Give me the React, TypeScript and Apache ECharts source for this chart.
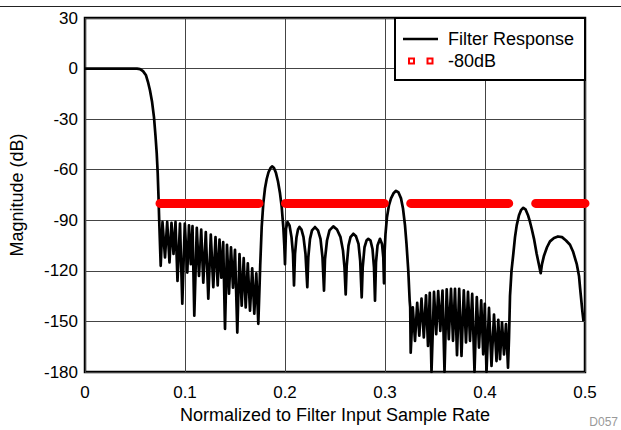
import React, { useEffect, useRef } from "react";
import * as echarts from "echarts";

// Tick setup
const xTicks = [0, 0.1, 0.2, 0.3, 0.4, 0.5];
const yMin = -180;
const yMax = 30;
const yStep = 30;

// Filter response: [normalized frequency, dB]
const passband: [number, number][] = [
  [0, 0], [0.052, 0], [0.055, -0.3], [0.058, -1.5], [0.061, -4], [0.063, -8],
  [0.065, -13], [0.067, -19.5], [0.069, -29], [0.0705, -40], [0.0717, -50],
  [0.0727, -62], [0.0735, -76], [0.0742, -90],
];

const stopband1: [number, number][] = [
  [0.0757, -117], [0.0775, -91], [0.08, -112], [0.0822, -91], [0.0845, -115],
  [0.0865, -91.5], [0.0885, -110], [0.0905, -91], [0.0925, -126], [0.095, -92],
  [0.0973, -139.5], [0.0998, -92], [0.1023, -121], [0.104, -93], [0.1058, -116],
  [0.1075, -93.5], [0.1093, -146.6], [0.1118, -94.5], [0.114, -123], [0.1162, -95.5],
  [0.1183, -127], [0.1208, -97], [0.1233, -136.5], [0.1258, -98.5], [0.1283, -129.7],
  [0.1305, -100], [0.1327, -128.7], [0.1345, -101.5], [0.1363, -124], [0.1382, -103],
  [0.14, -154.4], [0.142, -104.5], [0.144, -133.5], [0.146, -106], [0.148, -130],
  [0.15, -107.5], [0.1523, -156.6], [0.1545, -110], [0.1567, -140.7], [0.1587, -112.5],
  [0.1607, -141.7], [0.1628, -115.5], [0.165, -143.6], [0.1672, -118.5], [0.1693, -145.4],
  [0.1713, -121.5], [0.1733, -151.4],
];

const sidelobeA: [number, number][] = [
  [0.1745, -130], [0.1752, -117], [0.1767, -94], [0.1783, -80], [0.18, -71],
  [0.1817, -65.5], [0.1835, -61.5], [0.1855, -59], [0.1873, -58], [0.189, -59],
  [0.191, -62], [0.193, -67], [0.195, -74], [0.1967, -82], [0.1983, -94],
  [0.1993, -105], [0.2, -116],
];

const stopband2: [number, number][] = [
  [0.201, -95], [0.2025, -91], [0.2045, -93], [0.2065, -100], [0.208, -110], [0.209, -128.7],
  [0.21, -110], [0.2115, -100], [0.213, -95.5], [0.2145, -94], [0.2165, -95.5], [0.2185, -100],
  [0.2205, -110], [0.2223, -129.7],
  [0.2233, -112], [0.225, -101], [0.227, -96], [0.23, -94], [0.233, -96], [0.2355, -101],
  [0.2375, -112], [0.239, -131.7],
  [0.24, -113], [0.242, -102], [0.2445, -96], [0.2483, -93.6], [0.252, -95.5], [0.2555, -100],
  [0.258, -108], [0.2595, -118], [0.2607, -134],
  [0.2617, -117], [0.2635, -105], [0.2655, -100], [0.2683, -98], [0.271, -99.5], [0.2735, -104],
  [0.2752, -114], [0.2767, -135.7],
  [0.2777, -118], [0.2795, -106], [0.2815, -102], [0.2833, -101], [0.2855, -102], [0.2875, -107],
  [0.289, -118], [0.29, -137.7],
  [0.291, -115], [0.2925, -105], [0.295, -101], [0.297, -104], [0.2983, -112], [0.299, -127.4],
];

const sidelobeB: [number, number][] = [
  [0.2995, -110], [0.3005, -98], [0.302, -88], [0.304, -81], [0.306, -77], [0.3085, -74],
  [0.311, -72.5], [0.3135, -73.5], [0.316, -77], [0.318, -83], [0.32, -93], [0.3215, -104],
  [0.3233, -120], [0.3247, -138], [0.3252, -141.7],
];

const stopband3: [number, number][] = [
  [0.3257, -168.5], [0.3278, -141.7], [0.33, -161.5], [0.3322, -139], [0.3343, -158.5],
  [0.3365, -136.5], [0.3388, -159.5], [0.341, -134.5], [0.343, -164.5], [0.3448, -133],
  [0.3465, -180], [0.349, -132.5], [0.3512, -157.5], [0.3532, -132], [0.3553, -155.6],
  [0.3575, -131.7], [0.3595, -180], [0.3617, -131], [0.3638, -160.5], [0.366, -130.7],
  [0.368, -161.5], [0.37, -130.7], [0.372, -170], [0.3742, -130.7], [0.3765, -170.5],
  [0.3788, -131.5], [0.381, -162.5], [0.383, -132.5], [0.385, -161.5], [0.3872, -133.7],
  [0.3895, -180], [0.3918, -135.5], [0.394, -165.5], [0.3962, -137.5], [0.3982, -169.5],
  [0.3998, -139.5], [0.4015, -180], [0.404, -142], [0.4065, -176.4], [0.409, -146],
  [0.4115, -173.5], [0.4133, -149], [0.415, -172.4], [0.417, -150.6], [0.419, -169.5],
  [0.421, -151.6], [0.423, -177.4],
];

const sidelobeC: [number, number][] = [
  [0.424, -160], [0.425, -135], [0.4265, -120], [0.4283, -110], [0.43, -100], [0.4317, -93],
  [0.434, -87], [0.436, -84], [0.4383, -82.6], [0.4405, -83.5], [0.443, -87], [0.445, -91],
  [0.4467, -95], [0.449, -101], [0.4517, -110], [0.454, -116.5], [0.4557, -121.4],
  [0.457, -116], [0.459, -111], [0.462, -106], [0.465, -102.5], [0.469, -100.5], [0.473, -99.6],
  [0.477, -100], [0.481, -102], [0.485, -104.5], [0.488, -108.5], [0.4917, -115.8],
  [0.494, -123], [0.495, -129.7], [0.4973, -143.6], [0.4985, -150],
];

// -80 dB reference line segments (start, end) in normalized frequency
const refLevel = -80;
const refSegments: [number, number][] = [
  [0.075, 0.174], [0.2005, 0.2993], [0.3257, 0.4237], [0.4507, 0.5],
];

const FONT = "'Liberation Sans', Arial, sans-serif";

export default function App() {
  const ref = useRef<HTMLDivElement>(null);

  useEffect(() => {
    if (!ref.current) return;
    const chart = echarts.init(ref.current, undefined, { renderer: "svg" });

    const response = [
      ...passband, ...stopband1, ...sidelobeA, ...stopband2,
      ...sidelobeB, ...stopband3, ...sidelobeC,
    ];
    const refData: any[] = [];
    refSegments.forEach(([a, b], i) => {
      refData.push([a, refLevel], [b, refLevel]);
      if (i < refSegments.length - 1) refData.push([b + 0.001, "-"]);
    });

    const gridLeft = 85, gridTop = 18, gridW = 500, gridH = 354;

    chart.setOption({
      animation: false,
      backgroundColor: "#fff",
      textStyle: { fontFamily: FONT },
      grid: {
        left: gridLeft, top: gridTop, width: gridW, height: gridH,
        show: true, borderColor: "#000", borderWidth: 2.5, backgroundColor: "transparent",
      },
      xAxis: {
        type: "value", min: xTicks[0], max: xTicks[xTicks.length - 1], interval: 0.1,
        name: "Normalized to Filter Input Sample Rate", nameLocation: "middle", nameGap: 30,
        nameTextStyle: { fontSize: 18, color: "#000", fontFamily: FONT },
        axisLine: { show: false }, axisTick: { show: false },
        axisLabel: {
          fontSize: 17, color: "#000", margin: 12, fontFamily: FONT,
          formatter: (v: number) => (v === 0 ? "0" : v.toFixed(1)),
        },
        splitLine: { show: true, lineStyle: { color: "#444", width: 1 } },
      },
      yAxis: {
        type: "value", min: yMin, max: yMax, interval: yStep,
        name: "Magnitude (dB)", nameLocation: "middle", nameGap: 59,
        nameTextStyle: { fontSize: 18, color: "#000", fontFamily: FONT },
        axisLine: { show: false }, axisTick: { show: false },
        axisLabel: { fontSize: 17, color: "#000", margin: 7, fontFamily: FONT },
        splitLine: { show: true, lineStyle: { color: "#444", width: 1 } },
      },
      series: [
        {
          name: "Filter Response", type: "line", data: response, showSymbol: false,
          symbol: "none", lineStyle: { color: "#000", width: 2.7, join: "round" },
          z: 3,
        },
        {
          name: "-80dB", type: "line", data: refData, showSymbol: false, symbol: "none",
          connectNulls: false, clip: false,
          lineStyle: { color: "#ff0000", width: 9, cap: "round" }, z: 4,
        },
      ],
      graphic: [
        { type: "line", shape: { x1: 0, y1: 6.5, x2: 621, y2: 6.5 }, style: { stroke: "#222", lineWidth: 1 } },
        {
          type: "rect", shape: { x: 395, y: 18, width: 190, height: 62 },
          style: { fill: "#fff", stroke: "#000", lineWidth: 2 }, z: 10,
        },
        { type: "line", shape: { x1: 403, y1: 39, x2: 438, y2: 39 }, style: { stroke: "#000", lineWidth: 2.5 }, z: 11 },
        {
          type: "text", x: 448, y: 39, z: 11,
          style: { text: "Filter Response", font: `18px ${FONT}`, fill: "#000", textVerticalAlign: "middle" },
        },
        { type: "rect", shape: { x: 409, y: 58.5, width: 5, height: 5 }, style: { fill: "#fff", stroke: "#ff0000", lineWidth: 2 }, z: 11 },
        { type: "rect", shape: { x: 427.5, y: 58.5, width: 5, height: 5 }, style: { fill: "#fff", stroke: "#ff0000", lineWidth: 2 }, z: 11 },
        {
          type: "text", x: 448, y: 61, z: 11,
          style: { text: "-80dB", font: `18px ${FONT}`, fill: "#000", textVerticalAlign: "middle" },
        },
        {
          type: "text", x: 618, y: 422, z: 11,
          style: { text: "D057", font: `12px ${FONT}`, fill: "#999", textAlign: "right", textVerticalAlign: "middle" },
        },
      ],
    });

    return () => chart.dispose();
  }, []);

  return (
    <div
      ref={ref}
      style={{ position: "fixed", left: 0, top: 0, width: 621, height: 430, background: "#fff" }}
    />
  );
}
